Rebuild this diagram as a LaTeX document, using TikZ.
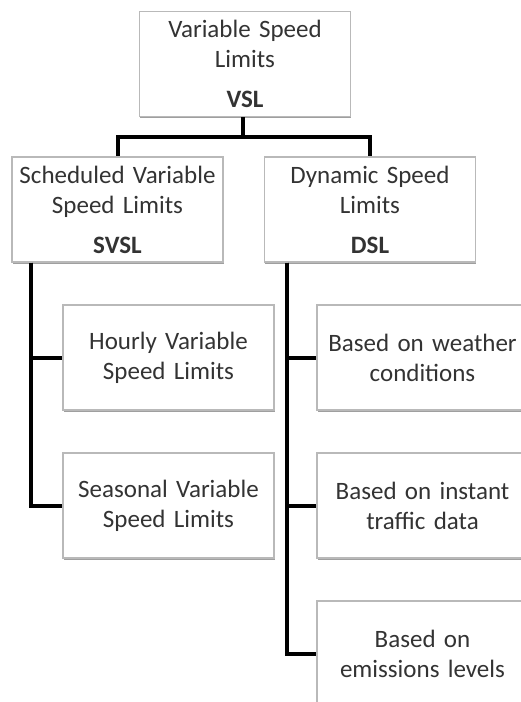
\documentclass[tikz,border=0pt]{standalone}
\usepackage{fontspec}
\setmainfont{Carlito}
\usetikzlibrary{positioning, shadows}
\usepackage{xcolor}

\begin{document}
\begin{tikzpicture}[node distance=74pt, auto]
% Define styles
\tikzstyle{upper} = [rectangle, minimum width=105.5pt, minimum height=52.5pt, text centered, text width=103pt, inner sep=1.25pt, draw=gray!55, line width=0.6pt, fill=white, text=black!80, font=\fontsize{12.5}{15}\selectfont, drop shadow={shadow xshift=0.3pt, shadow yshift=-0.8pt, fill=gray!75, opacity=1}]
\tikzstyle{leaf} = [upper]
\tikzstyle{link} = [line width=2pt, line join=miter]

\useasboundingbox (0,0) rectangle (260pt,-351pt);

% Top level
\node (vsl) [upper] at (122.5pt,-32pt) {Variable Speed\\Limits\\[5pt]\textbf{VSL}};

% Second level
\node (svsl) [upper, below of=vsl, xshift=-63.75pt, yshift=1.25pt] {Scheduled Variable\\Speed Limits\\[5pt]\textbf{SVSL}};
\node (dsl) [upper, below of=vsl, xshift=62.5pt, yshift=1.25pt] {Dynamic Speed\\Limits\\[5pt]\textbf{DSL}};

% Scheduled branch
\node (hourly) [leaf, below of=svsl, xshift=25.5pt] {Hourly Variable\\Speed Limits};
\node (seasonal) [leaf, below of=hourly] {Seasonal Variable\\Speed Limits};

% Dynamic branch
\node (weather) [leaf, below of=dsl, xshift=26.25pt] {Based on weather\\conditions};
\node (traffic) [leaf, below of=weather] {Based on instant\\traffic data};
\node (emissions) [leaf, below of=traffic] {Based on\\emissions levels};

% Connectors
\draw [link] ([xshift=-1pt]vsl.south) -- ++(0,-10pt) -| (svsl.north);
\draw [link] ([xshift=-1pt]vsl.south) -- ++(0,-10pt) -| (dsl.north);
\draw [link] ([xshift=10pt]svsl.south west) |- (hourly.west);
\draw [link] ([xshift=10pt]svsl.south west) |- (seasonal.west);
\draw [link] ([xshift=11.5pt]dsl.south west) |- (weather.west);
\draw [link] ([xshift=11.5pt]dsl.south west) |- (traffic.west);
\draw [link] ([xshift=11.5pt]dsl.south west) |- (emissions.west);

\end{tikzpicture}
\end{document}
